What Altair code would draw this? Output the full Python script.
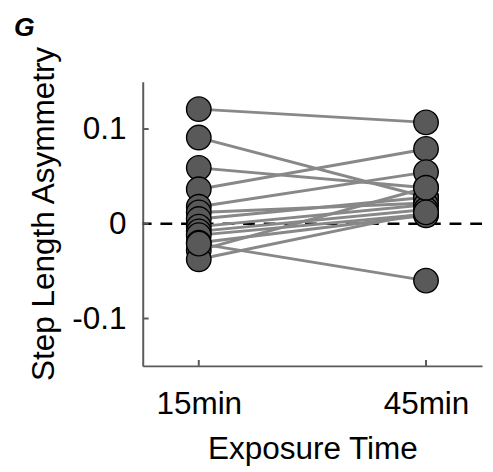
import altair as alt
import pandas as pd

times = ["15min", "45min"]
v15 = [0.121, 0.091, 0.059, 0.0365, 0.018, 0.012, 0.005, -0.003, -0.008, -0.012, -0.020, -0.028, -0.0375, -0.021]
v45 = [0.107, 0.028, 0.038, 0.079, 0.0545, 0.022, 0.028, 0.020, 0.015, 0.010, 0.009, 0.038, 0.012, -0.060]
y_ticks = [-0.1, 0, 0.1]

rows = []
for i, (a, b) in enumerate(zip(v15, v45)):
    rows.append({"subject": i, "t": 0, "value": a})
    rows.append({"subject": i, "t": 1, "value": b})
df = pd.DataFrame(rows)
ticks_y = pd.DataFrame({"v": y_ticks})
ticks_x = pd.DataFrame({"t": [0, 1]})

W, H = 345, 289
FONT = "Liberation Sans"
FS = 32

xscale = alt.Scale(domain=[-0.2466, 1.2466], nice=False, zero=False)
yscale = alt.Scale(domain=[-0.15, 0.15], nice=False, zero=False)

label_x = "datum.value == 0 ? '" + times[0] + "' : '" + times[1] + "'"
xenc = alt.X("t:Q", scale=xscale,
             axis=alt.Axis(title="Exposure Time", values=[0, 1], labelExpr=label_x,
                           labelAngle=0, tickSize=0, labelFlush=False,
                           labelPadding=23, titlePadding=15,
                           domainColor="#5a5a5a", domainWidth=2,
                           labelFontSize=FS, titleFontSize=FS,
                           labelFont=FONT, titleFont=FONT,
                           labelColor="black", titleColor="black",
                           titleFontWeight="normal", grid=False))
yenc = alt.Y("value:Q", scale=yscale,
             axis=alt.Axis(title="Step Length Asymmetry", values=y_ticks,
                           labelExpr="datum.value == 0 ? '0' : (datum.value < 0 ? '-' + format(-datum.value, '.1f') : format(datum.value, '.1f'))",
                           tickSize=0, labelPadding=17, titlePadding=12,
                           labelFlush=False,
                           domainColor="#5a5a5a", domainWidth=2,
                           labelFontSize=FS, titleFontSize=FS,
                           labelFont=FONT, titleFont=FONT,
                           labelColor="black", titleColor="black",
                           titleFontWeight="normal", titleY=134, grid=False))

zero = alt.Chart(pd.DataFrame({"z": [0]})).mark_rule(
    color="black", strokeWidth=2.5, strokeDash=[12, 9]
).encode(y=alt.Y("z:Q", scale=yscale))

lines = alt.Chart(df).mark_line(color="#888888", strokeWidth=3).encode(
    x=xenc, y=yenc, detail="subject:N"
)
points = alt.Chart(df).mark_point(
    filled=True, shape="circle", size=620, fill="#595959", stroke="black",
    strokeWidth=1.4, opacity=1
).encode(x=xenc, y=yenc)

yt = alt.Chart(ticks_y).mark_rule(color="#5a5a5a", strokeWidth=2).encode(
    y=alt.Y("v:Q", scale=yscale), x=alt.value(0), x2=alt.value(6)
)
xt = alt.Chart(ticks_x).mark_rule(color="#5a5a5a", strokeWidth=2).encode(
    x=alt.X("t:Q", scale=xscale), y=alt.value(H), y2=alt.value(H - 6)
)
glabel = alt.Chart(pd.DataFrame({"g": ["G"]})).mark_text(
    font=FONT, fontSize=27, fontStyle="italic", fontWeight="bold",
    color="black", align="left", baseline="alphabetic"
).encode(text="g:N", x=alt.value(-131), y=alt.value(-46))

chart = alt.layer(zero, lines, points, yt, xt, glabel).properties(
    width=W, height=H,
    autosize=alt.AutoSizeParams(type="none"),
    padding={"left": 137, "top": 71, "right": 3, "bottom": 104},
).configure_view(stroke=None)

chart.save("out.html", embed_options={"renderer": "svg", "actions": False})
